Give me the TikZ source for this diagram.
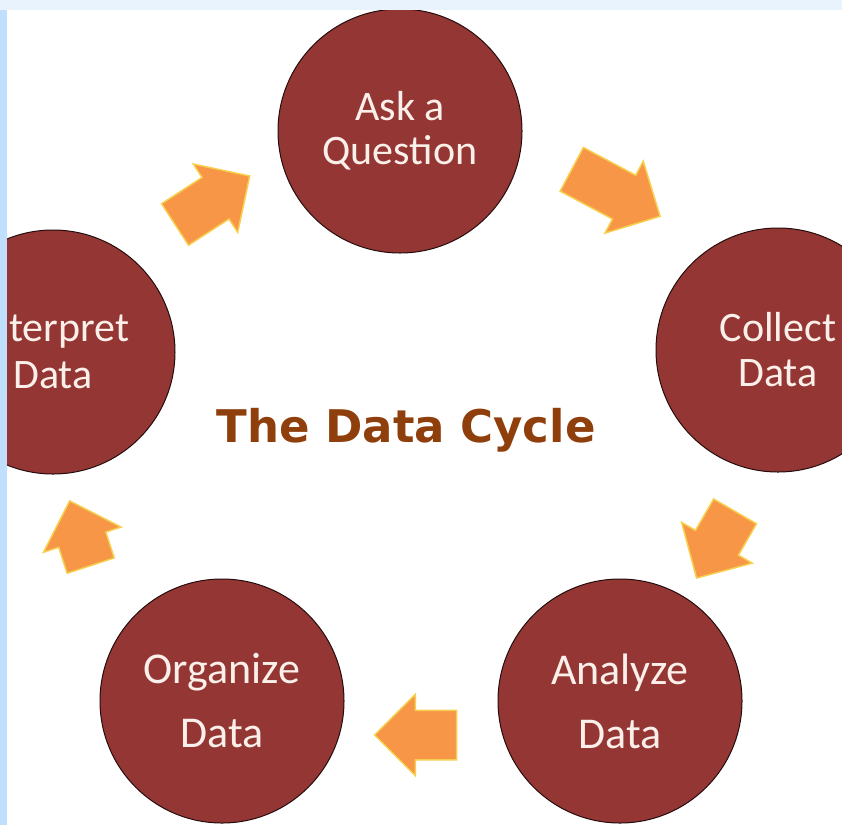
\documentclass[tikz,border=0pt]{standalone}
\usepackage{fontspec}
\setmainfont{Carlito}
\newfontfamily\titlefont{DejaVu Sans}
\usetikzlibrary{shapes.arrows}
\definecolor{stagefill}{HTML}{943634}
\definecolor{stagetext}{HTML}{FBEFEA}
\definecolor{arrowfill}{HTML}{F79646}
\definecolor{arrowedge}{HTML}{F6CF4E}
\definecolor{titlecol}{HTML}{8F3F0C}
\definecolor{bandtop}{HTML}{E9F3FE}
\definecolor{bandleft}{HTML}{C0DFFD}
\begin{document}
\begin{tikzpicture}[x=1pt,y=-1pt,
    stage/.style={circle,minimum size=244pt,inner sep=0pt,fill=stagefill,
      draw=black!75!stagefill,line width=1pt,text=stagetext,align=center,
      font=\fontsize{42}{45}\selectfont},
    turn/.style={single arrow,single arrow head extend=16pt,minimum width=80pt,
      inner xsep=0pt,inner ysep=24pt,fill=arrowfill,draw=arrowedge,line width=1.5pt}]
  \useasboundingbox (0,0) rectangle (842,825);
  \clip (0,0) rectangle (842,825);
  \path
    (400,131) node[stage,font=\fontsize{42}{44}\selectfont] (ask){Ask a\\Question}
    (778,350) node[stage] (collect){Collect\\Data}
    (620,701) node[stage,font=\fontsize{44}{64}\selectfont] (analyze){Analyze\\Data}
    (222,701) node[stage,font=\fontsize{44}{64}\selectfont] (organize){Organize\\Data}
    (53,352) node[stage,font=\fontsize{42}{47}\selectfont] (interpret){Interpret\\Data};
  \path
    (202,207) node[turn,rotate=33,minimum height=89pt] (a1){}
    (605,187) node[turn,rotate=-28,minimum height=100pt] (a2){}
    (722,534) node[turn,rotate=-120,minimum height=77pt] (a3){}
    (428,735) node[turn,rotate=180,minimum height=82pt] (a4){}
    (84,545) node[turn,rotate=108,minimum height=68pt] (a5){};
  \node[anchor=base,text=titlecol,font=\titlefont\bfseries\fontsize{45}{50}\selectfont]
    (title) at (406,442) {The Data Cycle};
  \fill[bandtop] (0,0) rectangle (842,10);
  \fill[bandleft] (0,10) rectangle (7,825);
\end{tikzpicture}
\end{document}
